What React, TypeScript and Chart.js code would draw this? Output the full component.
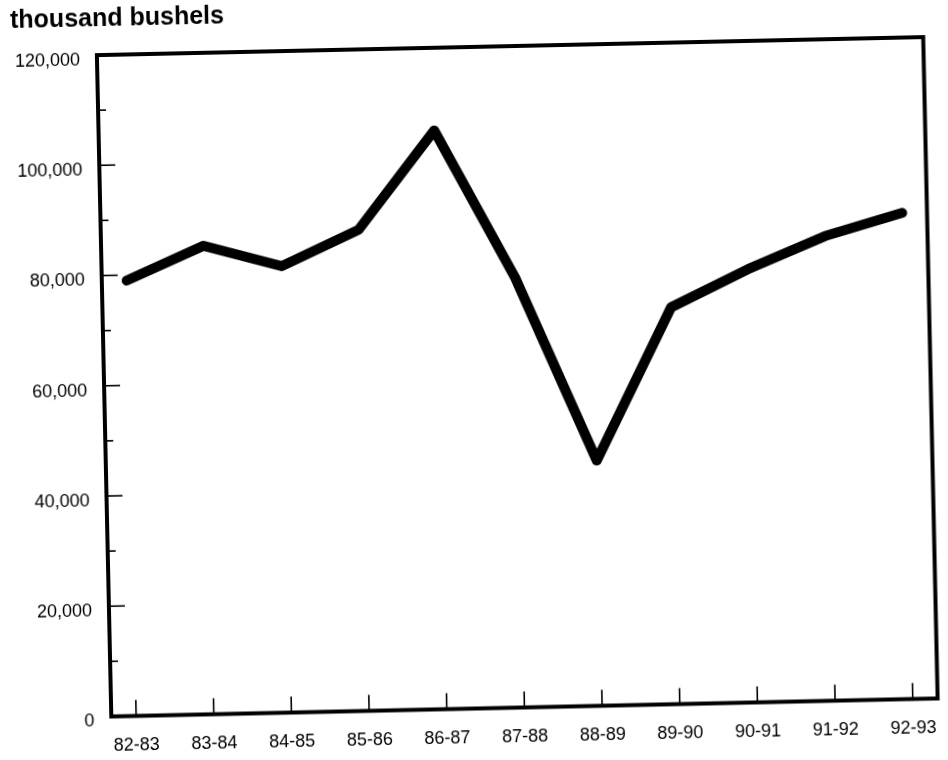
import React, { useEffect, useRef } from "react";
import { Chart, registerables } from "chart.js";

Chart.register(...registerables);

const categories = ["82-83", "83-84", "84-85", "85-86", "86-87", "87-88", "88-89", "89-90", "90-91", "91-92", "92-93"];
const bushels = [79000, 85000, 81000, 87300, 105000, 78000, 44500, 72000, 78600, 84300, 88200];
const yLabelledTicks = [0, 20000, 40000, 60000, 80000, 100000, 120000];
const yMinorStep = 10000;
const yAxisTitle = "thousand bushels";

const FONT = '"Liberation Sans", Arial, Helvetica, sans-serif';

export default function App() {
  const ref = useRef<HTMLCanvasElement>(null);

  useEffect(() => {
    if (!ref.current) return;

    const frame = {
      id: "frame",
      afterDraw(chart: any) {
        const { ctx, chartArea: a, scales } = chart;
        const xs = scales.x;
        const ys = scales.y;
        ctx.save();
        ctx.strokeStyle = "#000";
        ctx.lineWidth = 1.6;
        for (let v = ys.min; v <= ys.max; v += yMinorStep) {
          const py = ys.getPixelForValue(v);
          const len = yLabelledTicks.includes(v) ? 16 : 8;
          ctx.beginPath();
          ctx.moveTo(a.left, py);
          ctx.lineTo(a.left + len, py);
          ctx.stroke();
        }
        categories.forEach((_, i) => {
          const px = xs.getPixelForValue(i);
          ctx.beginPath();
          ctx.moveTo(px, a.bottom);
          ctx.lineTo(px, a.bottom - 16);
          ctx.stroke();
        });
        ctx.lineWidth = 4;
        ctx.lineJoin = "miter";
        ctx.strokeRect(a.left, a.top, a.right - a.left, a.bottom - a.top);
        ctx.fillStyle = "#000";
        ctx.font = `bold 25px ${FONT}`;
        ctx.textAlign = "left";
        ctx.textBaseline = "alphabetic";
        ctx.fillText(yAxisTitle, 18, 37);
        ctx.restore();
      },
    };

    const chart = new Chart(ref.current, {
      type: "line",
      data: {
        datasets: [
          {
            label: yAxisTitle,
            data: bushels.map((v, i) => ({ x: i, y: v })),
            borderColor: "#000",
            backgroundColor: "#000",
            borderWidth: 10,
            pointRadius: 0,
            tension: 0,
            borderCapStyle: "round",
            borderJoinStyle: "round",
            clip: false,
          } as any,
        ],
      },
      options: {
        animation: false,
        responsive: false,
        maintainAspectRatio: false,
        layout: { padding: { top: 66, right: 11, left: 0, bottom: 0 } },
        plugins: {
          legend: { display: false },
          tooltip: { enabled: false },
          title: { display: false },
        },
        scales: {
          x: {
            type: "linear",
            min: -0.32,
            max: 10.32,
            afterBuildTicks: (s: any) => {
              s.ticks = categories.map((_, i) => ({ value: i }));
            },
            afterFit: (s: any) => {
              s.height = 72.5;
            },
            grid: { display: false, drawTicks: false },
            border: { display: false },
            ticks: {
              autoSkip: false,
              maxRotation: 0,
              minRotation: 0,
              padding: 19,
              color: "#000",
              font: { family: FONT, size: 18 },
              callback: (v: any) => categories[v as number] ?? "",
            },
          },
          y: {
            min: 0,
            max: 120000,
            afterFit: (s: any) => {
              s.width = 104;
            },
            grid: { display: false, drawTicks: false },
            border: { display: false },
            ticks: {
              stepSize: 20000,
              padding: 17,
              labelOffset: 5,
              color: "#000",
              font: { family: FONT, size: 18 },
              callback: (v: any) => Number(v).toLocaleString("en-US"),
            },
          },
        },
      },
      plugins: [frame],
    });

    return () => chart.destroy();
  }, []);

  return (
    <div
      style={{
        position: "fixed",
        left: 0,
        top: 0,
        width: 948,
        height: 760,
        overflow: "hidden",
        background: "#fff",
      }}
    >
      <div
        style={{
          position: "absolute",
          left: 0,
          top: -20,
          width: 948,
          height: 800,
          transform: "rotate(-1.25deg)",
          transformOrigin: "519px 397px",
        }}
      >
        <canvas ref={ref} width={948} height={800} style={{ width: 948, height: 800, display: "block" }} />
      </div>
    </div>
  );
}
